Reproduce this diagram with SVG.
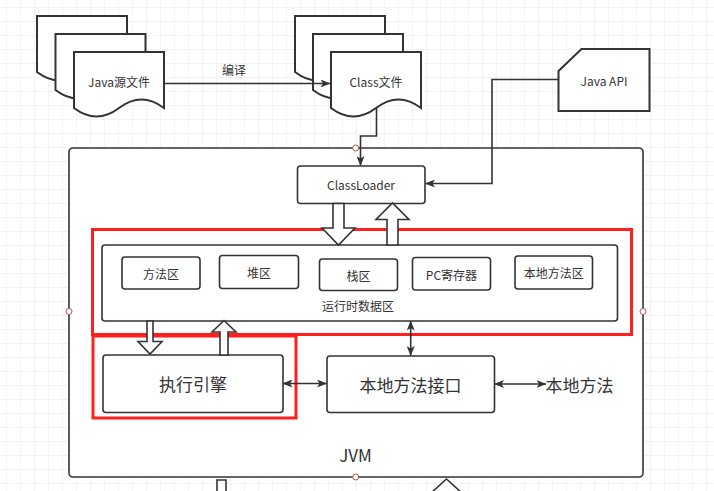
<svg xmlns="http://www.w3.org/2000/svg" width="714" height="491" viewBox="0 0 714 491">
<style>
  .doc{fill:#fff;stroke:#333;stroke-width:2;stroke-linejoin:miter}
  .box{fill:#fff;stroke:#333;stroke-width:1.6}
  .red{fill:none;stroke:#ff1f1f;stroke-width:3}
  .hollow{fill:#fff;stroke:#333;stroke-width:1.6;stroke-linejoin:miter}
  .edge{fill:none;stroke:#333;stroke-width:1.6}
  .pt{fill:#fff;stroke:#b85450;stroke-width:1}
  text{font-family:"Microsoft YaHei","Noto Sans CJK SC","Noto Sans",sans-serif;fill:#333;text-anchor:middle;dominant-baseline:central}
  .s{font-size:12px}
  .l{font-size:17px}
</style>
<defs>
  <pattern id="grid" x="6" y="7" width="14" height="14" patternUnits="userSpaceOnUse">
    <path d="M14 0H0V14" fill="none" stroke="#e8e8e8" stroke-width="1"/>
  </pattern>
  <marker id="arr" viewBox="0 0 10 8" refX="9.5" refY="4" markerWidth="10" markerHeight="8" markerUnits="userSpaceOnUse" orient="auto-start-reverse">
    <path d="M0,0 L10,4 L0,8 L2.5,4 Z" fill="#333"/>
  </marker>
  <path id="docshape" d="M0,56 L0,0 L90,0 L90,56 Q67.5,39 45,56 Q22.5,73 0,56 Z"/>
</defs>
<rect width="714" height="491" fill="#fff"/>
<rect width="714" height="491" fill="url(#grid)"/>

<g id="java-source">
  <use href="#docshape" class="doc" x="37" y="16"/>
  <use href="#docshape" class="doc" x="55.5" y="34"/>
  <use href="#docshape" class="doc" x="74" y="52"/>
  <text class="s" x="119" y="81.5">Java源文件</text>
</g>

<g id="class-file">
  <use href="#docshape" class="doc" x="295" y="16"/>
  <use href="#docshape" class="doc" x="313" y="34"/>
  <use href="#docshape" class="doc" x="331" y="52"/>
  <text class="s" x="376" y="81.5">Class文件</text>
</g>

<g id="java-api">
  <path class="doc" d="M558.5,71 L581.5,49 L649.5,49 L649.5,111 L558.5,111 Z"/>
  <text class="s" x="604" y="80">Java API</text>
</g>

<g id="jvm">
  <rect class="box" x="69" y="148" width="574" height="329" rx="4"/>
  <text class="l" x="355.5" y="454">JVM</text>
</g>

<g id="classloader">
  <rect class="box" x="297.5" y="166" width="127.5" height="37.5" rx="3"/>
  <text class="s" x="361" y="184">ClassLoader</text>
</g>

<g id="runtime-data-area">
  <rect class="box" x="102" y="245" width="515.5" height="76" rx="3"/>
  <text class="s" x="358" y="305">运行时数据区</text>
</g>

<g id="method-area">
  <rect class="box" x="122" y="257" width="78" height="32" rx="3"/>
  <text class="s" x="161" y="273">方法区</text>
</g>
<g id="heap">
  <rect class="box" x="219.5" y="255.5" width="79" height="33" rx="3"/>
  <text class="s" x="259" y="272">堆区</text>
</g>
<g id="stack">
  <rect class="box" x="319.5" y="259" width="78" height="31.5" rx="3"/>
  <text class="s" x="358.5" y="275">栈区</text>
</g>
<g id="pc-register">
  <rect class="box" x="412.5" y="257.5" width="78" height="32.5" rx="3"/>
  <text class="s" x="451.5" y="274">PC寄存器</text>
</g>
<g id="native-method-area">
  <rect class="box" x="515" y="256" width="77.5" height="33" rx="3"/>
  <text class="s" x="553.7" y="272">本地方法区</text>
</g>

<g id="exec-engine">
  <rect class="box" x="103" y="355" width="180" height="57.5" rx="3"/>
  <text class="l" x="193" y="383.5">执行引擎</text>
</g>

<g id="native-interface">
  <rect class="box" x="327" y="356" width="167.5" height="56.5" rx="3"/>
  <text class="l" x="410.5" y="384">本地方法接口</text>
</g>

<g id="native-method">
  <text class="l" x="579.5" y="384">本地方法</text>
</g>

<g id="highlights">
  <rect class="red" x="92.5" y="229.5" width="539" height="105"/>
  <rect class="red" x="93" y="336" width="203" height="82"/>
</g>

<g id="connectors">
  <path class="edge" d="M164,83.5 H330" marker-end="url(#arr)"/>
  <text class="s" x="234" y="69">编译</text>
  <path class="edge" d="M376.5,108 V136 H360.5 V165.5" marker-end="url(#arr)"/>
  <path class="edge" d="M558.5,79.5 H492 V183.5 H425.5" marker-end="url(#arr)"/>
  <polygon class="hollow" points="333,203.5 344,203.5 344,228 355,228 338.5,245 322,228 333,228"/>
  <polygon class="hollow" points="387,245 387,219.5 376,219.5 392.5,203 409,219.5 398,219.5 398,245"/>
  <polygon class="hollow" points="147,321 153,321 153,341.5 162,341.5 150,354 138,341.5 147,341.5"/>
  <polygon class="hollow" points="220,355 220,332 212,332 224,320.5 236,332 228,332 228,355"/>
  <path class="edge" d="M283,383.5 H326.5" marker-start="url(#arr)" marker-end="url(#arr)"/>
  <path class="edge" d="M410.7,321 V355.5" marker-start="url(#arr)" marker-end="url(#arr)"/>
  <path class="edge" d="M494.5,384 H546" marker-start="url(#arr)" marker-end="url(#arr)"/>
  <polygon class="hollow" points="217,480 226,480 226,500 217,500"/>
  <polygon class="hollow" points="440,500 440,494 430,494 446.5,479 463,494 453,494 453,500"/>
</g>

<g id="connection-points">
  <circle class="pt" cx="355.7" cy="148" r="3"/>
  <circle class="pt" cx="69" cy="311.5" r="3"/>
  <circle class="pt" cx="643" cy="311.5" r="3"/>
  <circle class="pt" cx="355.7" cy="477" r="3"/>
</g>
</svg>
